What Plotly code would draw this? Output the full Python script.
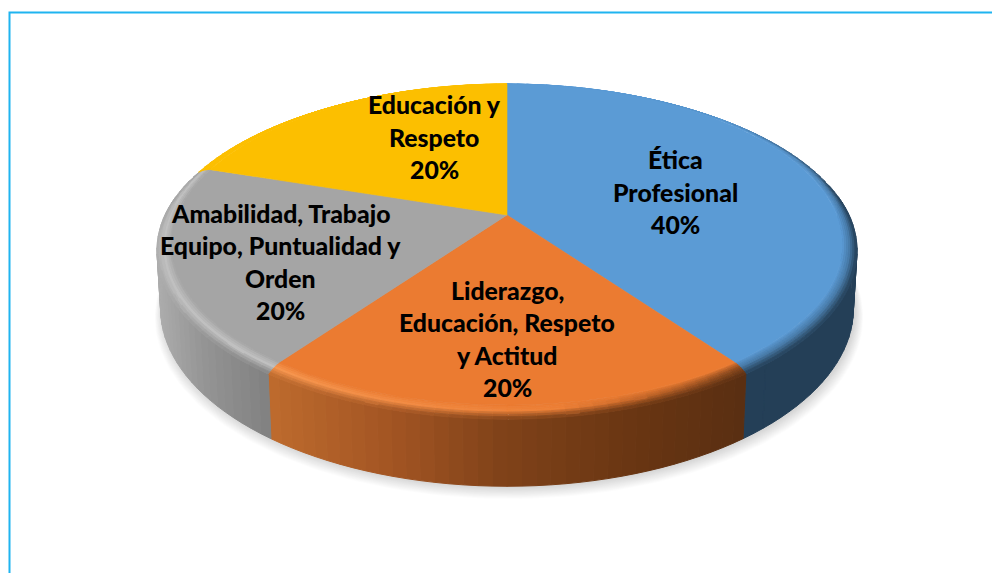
import numpy as np
import plotly.graph_objects as go

# ---- data ----
categories = ["Ética Profesional", "Liderazgo, Educación, Respeto y Actitud",
              "Amabilidad, Trabajo Equipo, Puntualidad y Orden", "Educación y Respeto"]
values = [40, 20, 20, 20]
label_lines = [["Ética", "Profesional"],
               ["Liderazgo,", "Educación, Respeto", "y Actitud"],
               ["Amabilidad, Trabajo", "Equipo, Puntualidad y", "Orden"],
               ["Educación y", "Respeto"]]

# ---- styles ----
face_colors = ["#5B9BD5", "#EB7B31", "#A5A5A5", "#FCBF00"]
wall_stops = [
    [(157, "#243F57"), (857, "#243F57")],
    [(272, "#BD6A2D"), (400, "#A05322"), (500, "#804219"), (640, "#683512"), (743, "#5A2F12")],
    [(157, "#ACACAC"), (200, "#959595"), (272, "#7F7F7F")],
    [(157, "#A07A00"), (857, "#A07A00")],
]
label_centers = [(675, 192), (507, 339), (280, 262), (434, 137)]
LINE_H = 32.5
FONT = dict(family="Lato, Carlito, sans-serif", size=24.8, color="#000000", weight=900)

# ---- projection of a disc seen in perspective ----
CX, CY = 507.0, 215.0
A, B, K = 343.6, 161.6, 0.191
DEPTH = 60.0
R_FACE, R_BOTTOM = 0.96, 0.99


def project(theta, rho=1.0, h=0.0):
    """theta is clockwise from 12 o'clock; h is drop below the top face (0..1)."""
    u, v = np.sin(theta), -np.cos(theta)
    den = 1 - K * rho * v
    return CX + A * rho * u / den, CY + (B * rho * v + DEPTH * h) / den


def rim_drop(theta):
    return 0.06 + 0.055 * max(0.0, float(np.cos(theta)))


def rgb(c):
    c = c.lstrip("#")
    return np.array([int(c[i:i + 2], 16) for i in (0, 2, 4)], float)


def mix(a, b, t):
    return a + (b - a) * float(np.clip(t, 0, 1))


def wall_color(i, x):
    stops = wall_stops[i]
    xs = [s[0] for s in stops]
    cs = np.array([rgb(s[1]) for s in stops])
    return np.array([np.interp(x, xs, cs[:, k]) for k in range(3)])


def hex_of(c, q=1):
    c = np.clip(np.round(c / q) * q, 0, 255).astype(int)
    return "#%02X%02X%02X" % tuple(c)


class Layer:
    def __init__(self):
        self.buckets = {}

    def add(self, col, xs, ys):
        b = self.buckets.setdefault(col, ([], []))
        b[0].extend(list(xs) + [xs[0], None])
        b[1].extend(list(ys) + [ys[0], None])

    def traces(self, width=1.0):
        return [go.Scatter(x=b[0], y=b[1], mode="lines", fill="toself", fillcolor=c,
                           line=dict(color=c, width=width), hoverinfo="skip", showlegend=False)
                for c, b in self.buckets.items()]


fracs = np.array(values, float) / sum(values)
edges = np.concatenate([[0], np.cumsum(fracs)]) * 2 * np.pi

fig = go.Figure()

# soft drop shadow under the disc
th_all = np.linspace(0, 2 * np.pi, 241)
LAYERS = 14
for n in range(LAYERS):
    t = 1 - n / (LAYERS - 1)
    sx, sy = project(th_all, R_BOTTOM * (1 + 0.022 * t), 1.0)
    fig.add_trace(go.Scatter(x=sx + 2, y=sy + 1 + t * 6, mode="lines", fill="toself",
                             fillcolor="rgba(0,0,0,0.012)", line=dict(width=0),
                             hoverinfo="skip", showlegend=False))

# walls
STEP = np.radians(2.0)
wall = Layer()
for i in range(len(values)):
    n = max(2, int(round((edges[i + 1] - edges[i]) / STEP)))
    th = np.linspace(edges[i], edges[i + 1], n + 1)
    for a, b in zip(th[:-1], th[1:]):
        if -np.cos((a + b) / 2) < -0.15:
            continue
        x1, y1 = project(a, 1.0, rim_drop(a))
        x2, y2 = project(b, 1.0, rim_drop(b))
        x3, y3 = project(b, R_BOTTOM, 1.0)
        x4, y4 = project(a, R_BOTTOM, 1.0)
        wall.add(hex_of(wall_color(i, (x1 + x2) / 2)), [x1, x2, x3, x4], [y1, y2, y3, y4])
fig.add_traces(wall.traces())

# rounded rim between top face and wall
BANDS = 7
rim = Layer()
for i in range(len(values)):
    face = rgb(face_colors[i])
    n = max(2, int(round((edges[i + 1] - edges[i]) / STEP)))
    th = np.linspace(edges[i], edges[i + 1], n + 1)
    for a, b in zip(th[:-1], th[1:]):
        mid = (a + b) / 2
        xm, _ = project(mid, 1.0, 0)
        vm = -np.cos(mid)
        wc = wall_color(i, xm)
        if i == 0:
            hi = mix(face, wc, 0.35)
        else:
            light = mix(face, np.array([255.0, 255.0, 255.0]) if i == 2 else np.array([255.0, 170.0, 100.0]),
                        np.clip((620 - xm) / 350, 0, 1) * (0.3 if i == 2 else 0.55))
            hi = mix(light, wc, np.clip((xm - 560) / 200, 0, 1) * 0.7)
        # the rim fades into the top face towards the back of the disc
        fade = np.clip((-vm - 0.2) / 0.5, 0, 1)
        hi = mix(hi, face, fade)
        wc = mix(wc, face, fade * 0.9)
        if i == 3:
            hi = face
            wc = face
        power = 2.0 - max(0.0, -vm)
        for k in range(BANDS):
            s0, s1 = k / BANDS, (k + 1) / BANDS
            s = (s0 + s1) / 2
            col = mix(face, hi, s / 0.5) if s < 0.5 else mix(hi, wc, (s - 0.5) / 0.5)
            r0, r1 = R_FACE + (1 - R_FACE) * s0, R_FACE + (1 - R_FACE) * s1
            xa, ya = project(a, r0, rim_drop(a) * s0 ** power)
            xb, yb = project(b, r0, rim_drop(b) * s0 ** power)
            xc, yc = project(b, r1, rim_drop(b) * s1 ** power)
            xd, yd = project(a, r1, rim_drop(a) * s1 ** power)
            rim.add(hex_of(col), [xa, xb, xc, xd], [ya, yb, yc, yd])
fig.add_traces(rim.traces(width=0.8))

# top face wedges
for i in range(len(values)):
    th = np.linspace(edges[i], edges[i + 1], 120)
    x, y = project(th, R_FACE)
    fig.add_trace(go.Scatter(x=[CX, *x, CX], y=[CY, *y, CY], mode="lines", fill="toself",
                             fillcolor=face_colors[i], line=dict(color=face_colors[i], width=0.6),
                             hoverinfo="skip", showlegend=False, name=categories[i]))

# labels (one annotation per line to hold the reference line spacing)
annotations = []
for lines, val, (lx, ly) in zip(label_lines, values, label_centers):
    rows = lines + [f"{val}%"]
    y0 = ly - LINE_H * (len(rows) - 1) / 2
    for j, row in enumerate(rows):
        annotations.append(dict(x=lx, y=y0 + j * LINE_H, text=row, showarrow=False,
                                xref="x", yref="y", xanchor="center", yanchor="middle", font=FONT))

fig.update_layout(
    width=992, height=573, margin=dict(l=0, r=0, t=0, b=0),
    paper_bgcolor="#FFFFFF", plot_bgcolor="#FFFFFF", showlegend=False,
    xaxis=dict(range=[0, 992], visible=False, fixedrange=True),
    yaxis=dict(range=[573, 0], visible=False, fixedrange=True),
    annotations=annotations,
    shapes=[dict(type="rect", xref="x", yref="y", x0=9.5, y0=12.5, x1=1010, y1=600,
                 line=dict(color="#1FB4F0", width=2), fillcolor="rgba(0,0,0,0)", layer="below")],
)
fig.write_html("out.html", config=dict(displayModeBar=False),
               post_script="document.body.style.margin='0';")
